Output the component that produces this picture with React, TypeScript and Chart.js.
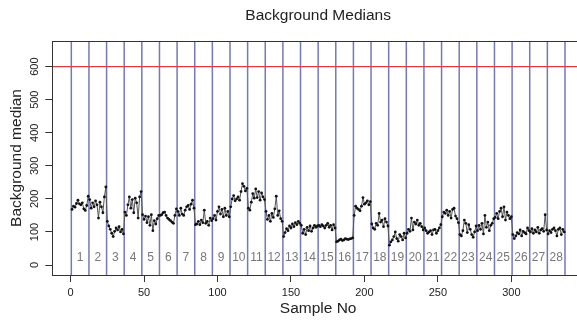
import React, { useEffect, useRef } from "react";
import { Chart, registerables } from "chart.js";

Chart.register(...registerables);

const FONT = '"Liberation Sans", Arial, Helvetica, sans-serif';

const TITLE = "Background Medians";
const X_TITLE = "Sample No";
const Y_TITLE = "Background median";

const X_TICKS = [0, 50, 100, 150, 200, 250, 300];
const Y_TICKS = [0, 100, 200, 300, 400, 500, 600];

const GROUP_LABELS = [
  "1", "2", "3", "4", "5", "6", "7", "8", "9", "10", "11", "12", "13", "14",
  "15", "16", "17", "18", "19", "20", "21", "22", "23", "24", "25", "26", "27", "28",
];
const BOUNDARIES = [
  0.5, 12.5, 24.5, 36.5, 48.5, 60.5, 72.5, 84.5, 96.5, 108.5, 120.5, 132.5, 144.5,
  156.5, 168.5, 180.5, 192.5, 204.5, 216.5, 228.5, 240.5, 252.5, 264.5, 276.5,
  288.5, 300.5, 312.5, 324.5, 336.5,
];
const THRESHOLD = 600;
const GROUP_LABEL_VALUE = 23;

const G1 = [168, 178, 175, 186, 196, 185, 182, 188, 170, 165, 180, 208];
const G2 = [198, 172, 188, 176, 194, 182, 142, 190, 176, 158, 206, 236];
const G3 = [132, 118, 108, 96, 86, 102, 112, 106, 116, 100, 108, 94];
const G4 = [160, 150, 182, 206, 172, 198, 158, 202, 188, 142, 206, 222];
const G5 = [152, 138, 148, 128, 146, 120, 152, 104, 134, 124, 140, 150];
const G6 = [150, 152, 158, 160, 150, 142, 138, 134, 130, 126, 150, 170];
const G7 = [162, 150, 172, 154, 150, 166, 176, 180, 168, 184, 196, 172];
const G8 = [122, 124, 132, 122, 136, 128, 166, 126, 132, 120, 142, 134];
const G9 = [140, 150, 136, 162, 176, 154, 168, 146, 172, 150, 162, 146];
const G10 = [176, 200, 210, 194, 200, 206, 196, 222, 246, 238, 224, 232];
const G11 = [172, 166, 190, 216, 202, 230, 204, 222, 196, 218, 206, 198];
const G12 = [162, 138, 150, 132, 156, 144, 170, 208, 150, 164, 140, 132];
const G13 = [86, 98, 110, 104, 118, 112, 124, 116, 128, 122, 132, 126];
const G14 = [120, 96, 108, 92, 114, 104, 118, 102, 112, 120, 114, 118];
const G15 = [120, 116, 122, 118, 112, 120, 126, 114, 120, 106, 122, 112];
const G16 = [70, 72, 76, 78, 74, 76, 80, 78, 77, 79, 80, 82];
const G17 = [150, 178, 172, 168, 164, 178, 204, 184, 188, 194, 182, 192];
const G18 = [124, 112, 108, 126, 120, 156, 130, 136, 116, 140, 130, 118];
const G19 = [60, 70, 76, 86, 100, 80, 72, 92, 86, 76, 96, 82];
const G20 = [96, 108, 102, 142, 106, 130, 124, 136, 120, 126, 116, 106];
const G21 = [112, 104, 96, 100, 104, 92, 106, 108, 96, 104, 112, 122];
const G22 = [146, 160, 156, 166, 150, 162, 142, 168, 172, 148, 140, 128];
const G23 = [92, 88, 104, 136, 126, 98, 122, 108, 92, 84, 100, 118];
const G24 = [104, 120, 108, 126, 94, 150, 114, 130, 104, 120, 126, 140];
const G25 = [144, 156, 140, 162, 172, 146, 176, 136, 160, 150, 140, 146];
const G26 = [92, 80, 88, 98, 94, 106, 88, 102, 98, 94, 112, 104];
const G27 = [100, 110, 96, 106, 100, 114, 96, 106, 110, 102, 152, 106];
const G28 = [94, 104, 98, 108, 112, 104, 88, 108, 112, 92, 108, 100];

const MEDIANS = [
  ...G1, ...G2, ...G3, ...G4, ...G5, ...G6, ...G7, ...G8, ...G9, ...G10,
  ...G11, ...G12, ...G13, ...G14, ...G15, ...G16, ...G17, ...G18, ...G19, ...G20,
  ...G21, ...G22, ...G23, ...G24, ...G25, ...G26, ...G27, ...G28,
];
const SAMPLE_NO = MEDIANS.map((_, i) => i + 1);

const overlayPlugin = {
  id: "overlay",
  beforeDatasetsDraw(chart: any) {
    const { ctx, chartArea: ca, scales } = chart;
    const x = scales.x;
    const y = scales.y;
    ctx.save();
    ctx.beginPath();
    ctx.rect(ca.left, ca.top, ca.right - ca.left, ca.bottom - ca.top);
    ctx.clip();
    ctx.strokeStyle = "rgba(92,98,170,0.85)";
    ctx.lineWidth = 1.5;
    BOUNDARIES.forEach((b) => {
      const px = x.getPixelForValue(b);
      ctx.beginPath();
      ctx.moveTo(px, ca.top);
      ctx.lineTo(px, ca.bottom);
      ctx.stroke();
    });
    const py = y.getPixelForValue(THRESHOLD);
    ctx.strokeStyle = "#e23a3f";
    ctx.lineWidth = 1.2;
    ctx.beginPath();
    ctx.moveTo(ca.left, py);
    ctx.lineTo(ca.right, py);
    ctx.stroke();
    ctx.fillStyle = "#777";
    ctx.font = `12px ${FONT}`;
    ctx.textAlign = "center";
    ctx.textBaseline = "middle";
    GROUP_LABELS.forEach((l, i) => {
      const cx = x.getPixelForValue((BOUNDARIES[i] + BOUNDARIES[i + 1]) / 2);
      ctx.fillText(l, cx, y.getPixelForValue(GROUP_LABEL_VALUE));
    });
    ctx.restore();
  },
  afterDraw(chart: any) {
    const { ctx, chartArea: ca } = chart;
    ctx.save();
    ctx.strokeStyle = "#333";
    ctx.lineWidth = 1;
    ctx.strokeRect(
      Math.round(ca.left) + 0.5,
      Math.round(ca.top) + 0.5,
      Math.round(ca.right - ca.left),
      Math.round(ca.bottom - ca.top)
    );
    ctx.restore();
  },
};

export default function App() {
  const canvasRef = useRef<HTMLCanvasElement | null>(null);

  useEffect(() => {
    if (!canvasRef.current) return;
    const chart = new Chart(canvasRef.current, {
      type: "line",
      data: {
        datasets: [
          {
            label: Y_TITLE,
            data: MEDIANS.map((v, i) => ({ x: SAMPLE_NO[i], y: v })),
            borderColor: "#555",
            borderWidth: 1,
            pointRadius: 1.4,
            pointBackgroundColor: "#111",
            pointBorderColor: "#111",
            pointBorderWidth: 0,
            tension: 0,
          },
        ],
      },
      options: {
        animation: false,
        responsive: true,
        maintainAspectRatio: false,
        devicePixelRatio: 1,
        layout: { padding: { left: 0, right: 16, top: 0, bottom: 0 } },
        plugins: {
          legend: { display: false },
          tooltip: { enabled: false },
          title: {
            display: true,
            text: TITLE,
            fullSize: false,
            color: "#222",
            font: { family: FONT, size: 15.5, weight: "normal" },
            padding: { top: 6.7, bottom: 15.7 },
          },
        },
        scales: {
          x: {
            type: "linear",
            min: -12.44,
            max: 349.44,
            afterBuildTicks: (s: any) => {
              s.ticks = X_TICKS.map((v) => ({ value: v }));
            },
            afterFit: (s: any) => {
              s.height = 48;
            },
            border: { display: false },
            grid: {
              drawOnChartArea: false,
              drawTicks: true,
              tickLength: 7,
              color: "#333",
              lineWidth: 1,
            },
            ticks: {
              color: "#222",
              font: { family: FONT, size: 11 },
              padding: 4,
              maxRotation: 0,
              autoSkip: false,
            },
            title: {
              display: true,
              text: X_TITLE,
              color: "#222",
              font: { family: FONT, size: 15.5 },
              padding: { top: 0, bottom: 4.7 },
            },
          },
          y: {
            type: "linear",
            min: -30.2,
            max: 677.5,
            afterBuildTicks: (s: any) => {
              s.ticks = Y_TICKS.map((v) => ({ value: v }));
            },
            afterFit: (s: any) => {
              s.width = 52.3;
            },
            border: { display: false },
            grid: {
              drawOnChartArea: false,
              drawTicks: true,
              tickLength: 7,
              color: "#333",
              lineWidth: 1,
            },
            ticks: {
              color: "#222",
              font: { family: FONT, size: 11 },
              padding: 1,
              minRotation: 90,
              maxRotation: 90,
              crossAlign: "center",
              autoSkip: false,
            },
            title: {
              display: true,
              text: Y_TITLE,
              color: "#222",
              font: { family: FONT, size: 15.5 },
              padding: { top: 7.7, bottom: 0 },
            },
          },
        },
      } as any,
      plugins: [overlayPlugin],
    });
    return () => chart.destroy();
  }, []);

  return (
    <div
      style={{
        position: "fixed",
        left: 0,
        top: 0,
        width: 577,
        height: 323,
        overflow: "hidden",
        background: "#fff",
      }}
    >
      <div style={{ position: "relative", width: 600, height: 323 }}>
        <canvas ref={canvasRef} />
      </div>
    </div>
  );
}
